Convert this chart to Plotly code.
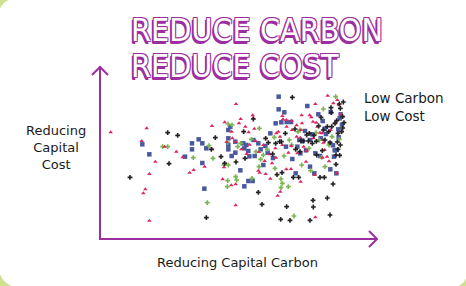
import plotly.graph_objects as go

# Data: x = capital carbon reduction score, y = relative capital cost (axis reversed: up = lower cost)
red_x = [62,170,155,196,178,166,160,178,224,259,278,299,311,344,367,366,404,438,398,424,437,402,437,452,466,476,488,490,493,425,427,437,447,410,454,470,479,497,507,520,524,505,509,527,541,563,546,558,559,565,570,577,579,589,590,605,606,620,635,636,633,631,641,650,659,664,669,676,679,682,690,696,701,704,711,697,713,730,742,746,753,733,722,700,589,603,632,674,648,622,595,577,556,540,676,717,741,604,620,670,571]
red_y = [157,145,183,245,282,328,340,422,200,215,232,278,270,260,208,138,127,72,298,316,313,262,376,117,140,157,106,115,146,155,175,185,130,186,208,222,194,183,216,195,243,272,278,282,296,347,250,233,160,155,170,108,118,120,140,122,150,136,106,130,150,173,200,212,106,112,125,72,128,140,158,160,180,210,230,233,47,70,60,74,103,130,150,188,268,267,305,285,245,220,218,195,205,223,412,244,280,198,170,175,335]

black_x = [233,263,237,120,364,376,349,393,404,438,461,490,465,505,516,527,535,548,561,576,569,590,572,600,607,615,610,626,617,630,640,655,658,667,672,686,693,669,670,660,690,703,712,720,729,738,738,744,749,751,742,744,755,758,762,758,760,751,748,740,725,716,705,720,697,700,712,724,735,679,650,586,557,574,633,680,723]
black_y = [158,166,251,292,208,173,413,230,250,246,155,117,235,337,373,175,188,222,284,278,185,380,418,421,52,147,292,292,208,215,183,183,160,190,166,138,112,361,381,421,292,292,354,405,312,253,225,208,226,195,186,160,155,144,128,110,66,85,72,122,140,155,180,188,212,150,140,98,130,184,165,160,190,185,183,225,83]

blue_x = [157,178,285,306,306,326,337,337,343,349,415,415,415,415,421,425,436,436,451,460,463,469,475,488,463,475,478,490,494,505,512,520,526,533,541,549,557,566,566,574,583,590,603,588,607,617,622,631,638,648,652,660,667,673,685,690,692,698,704,708,722,720,721,729,734,740,745,746,749,752,756,732,739,676,661,645,628]
blue_y = [193,223,230,190,208,178,190,249,326,205,150,175,195,208,140,228,185,218,271,190,205,195,303,303,319,213,229,180,228,190,208,255,198,218,160,234,130,50,88,127,97,126,126,200,237,280,200,220,183,211,78,260,163,280,103,228,175,123,146,162,96,190,268,196,211,210,148,172,115,103,134,230,280,220,180,153,180]

green_x = [218,233,310,352,357,369,402,414,413,415,413,412,426,437,440,443,452,486,484,498,508,507,512,520,532,553,555,573,577,573,595,582,598,605,612,624,630,635,657,662,678,695,700,705,717,737,748,726,688]
green_y = [200,200,233,368,197,235,255,132,187,255,302,320,135,290,300,200,190,295,178,215,145,260,238,225,208,172,265,297,310,323,320,228,180,195,408,155,150,255,205,272,158,232,87,260,195,50,178,170,180]

x_title = "Reducing Capital Carbon"
y_title = "Reducing<br>Capital<br>Cost"
corner_label = "Low Carbon<br>Low Cost"
title_lines = ["REDUCE CARBON", "REDUCE COST"]

W, H = 466, 286
L, R, T, B = 100, 377, 68, 239
PW, PH = R - L, B - T
PURPLE = "#9c2fa0"
GREEN_BG = "#cfe08f"


def fx(x):
    return (x - L) / PW


def fy(y):
    return (B - y) / PH


fig = go.Figure()
fig.add_trace(go.Scatter(x=blue_x, y=blue_y, mode="markers",
                         marker=dict(symbol="square", size=4.5, color="#4a58a0")))
fig.add_trace(go.Scatter(x=green_x, y=green_y, mode="markers",
                         marker=dict(symbol="cross", size=4, color="#7ab552")))
fig.add_trace(go.Scatter(x=red_x, y=red_y, mode="markers",
                         marker=dict(symbol="triangle-up", size=4, color="#e0245e")))
fig.add_trace(go.Scatter(x=black_x, y=black_y, mode="markers",
                         marker=dict(symbol="cross", size=4, color="#222222")))

shapes = []
# green page showing behind the rounded corners of the white card
r1, r2, r3 = 16, 20, 14
corners = [
    f"M {fx(-2)},{fy(-2)} L {fx(r1)},{fy(-2)} Q {fx(0)},{fy(0)} {fx(-2)},{fy(r1)} Z",
    f"M {fx(-2)},{fy(H + 2)} L {fx(-2)},{fy(H - r2)} Q {fx(0)},{fy(H)} {fx(r2)},{fy(H + 2)} Z",
    f"M {fx(W + 2)},{fy(H + 2)} L {fx(W - r3)},{fy(H + 2)} Q {fx(W)},{fy(H)} {fx(W + 2)},{fy(H - r3)} Z",
]
for c in corners:
    shapes.append(dict(type="path", path=c, xref="paper", yref="paper",
                       fillcolor=GREEN_BG, line=dict(width=0), layer="below"))
# axes with open arrowheads
shapes.append(dict(type="path", xref="paper", yref="paper",
                   path=f"M {fx(100)},{fy(66)} L {fx(100)},{fy(239)} L {fx(377)},{fy(239)}",
                   line=dict(color=PURPLE, width=2)))
shapes.append(dict(type="path", xref="paper", yref="paper",
                   path=f"M {fx(92)},{fy(75)} L {fx(100)},{fy(67)} L {fx(108)},{fy(75)}",
                   line=dict(color=PURPLE, width=2)))
shapes.append(dict(type="path", xref="paper", yref="paper",
                   path=f"M {fx(369)},{fy(231)} L {fx(377)},{fy(239)} L {fx(369)},{fy(247)}",
                   line=dict(color=PURPLE, width=2)))

label_font = dict(family="DejaVu Sans, sans-serif", size=13, color="#1a1a1a")
corner_font = dict(family="DejaVu Sans, sans-serif", size=13.5, color="#1a1a1a")
shadow = (f"-1px -1px 0 {PURPLE}, 1px -1px 0 {PURPLE}, -1px 1px 0 {PURPLE}, "
          f"1px 1px 0 {PURPLE}, -2px 2px 0 {PURPLE}, -1.5px 2.5px 0 {PURPLE}")
title_font = dict(family="DejaVu Sans Condensed, DejaVu Sans", size=32, color="white",
                  weight="normal", shadow=shadow)

annotations = [
    dict(text=title_lines[0], x=fx(129), y=fy(30), xanchor="left", yanchor="middle",
         font=title_font),
    dict(text=title_lines[1], x=fx(129), y=fy(66), xanchor="left", yanchor="middle",
         font=title_font),
    dict(text=y_title, x=fx(56), y=fy(147), xanchor="center", yanchor="middle",
         align="center", font=label_font),
    dict(text=corner_label, x=fx(362), y=fy(107), xanchor="left", yanchor="middle",
         align="left", font=corner_font),
    dict(text=x_title, x=fx(237), y=fy(262), xanchor="center", yanchor="middle",
         font=label_font),
]
for a in annotations:
    a.update(xref="paper", yref="paper", showarrow=False)

fig.update_layout(
    width=W, height=H,
    margin=dict(l=L, r=W - R, t=T, b=H - B, pad=0),
    paper_bgcolor="white", plot_bgcolor="rgba(0,0,0,0)",
    showlegend=False,
    xaxis=dict(range=[30, 861], visible=False, fixedrange=True),
    yaxis=dict(range=[477, -36], visible=False, fixedrange=True),
    shapes=shapes, annotations=annotations,
)

fig.write_html("out.html", config={"displayModeBar": False},
               post_script="document.body.style.margin='0';document.body.style.overflow='hidden';")
